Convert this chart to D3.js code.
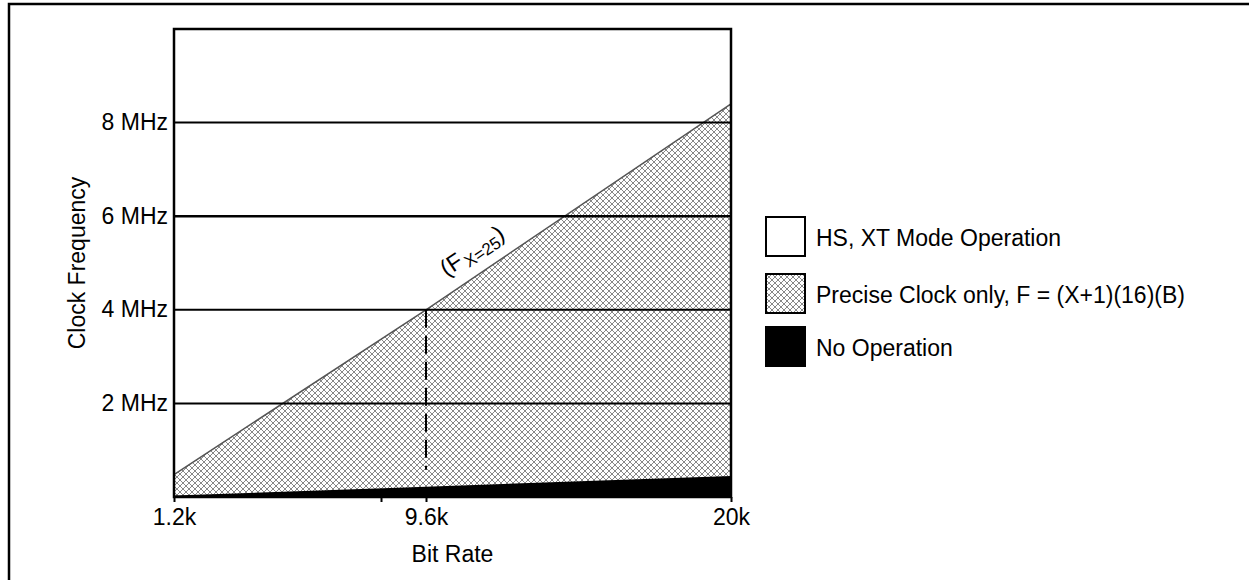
<!DOCTYPE html>
<html>
<head>
<meta charset="utf-8">
<script src="https://cdn.jsdelivr.net/npm/d3@7"></script>
<style>
  html, body { margin: 0; padding: 0; background: #fff; }
  svg { display: block; font-family: "Liberation Sans", Arial, sans-serif; }
</style>
</head>
<body>
<svg id="chart" width="1249" height="580"></svg>
<script>
// ---------- data ----------
const bitRateTicks = [1.2, 9.6, 20];
const bitRateTickLabels = ["1.2k", "9.6k", "20k"];
const bitRateMinorTicks = [8.1];
const freqTicks = [2, 4, 6, 8];
const freqTickLabels = ["2 MHz", "4 MHz", "6 MHz", "8 MHz"];
const preciseBitRate = [1.2, 9.6, 20];
const preciseFreq = [0.48, 4.0, 8.4];
const noOpBitRate = [1.2, 9.6, 20];
const noOpFreq = [0.03, 0.22, 0.45];
const markerBitRate = [9.6];
const markerFreqRange = [4.0, 0.58];
const annotationPos = [10.3, 4.7];
const legendLabels = ["HS, XT Mode Operation", "Precise Clock only, F = (X+1)(16)(B)", "No Operation"];
const xTitle = "Bit Rate";
const yTitle = "Clock Frequency";

// ---------- layout ----------
const L = 174, R = 731, T = 29, B = 497;
const FS = 23;
const svg = d3.select("#chart");

const x = d3.scaleLinear().domain(bitRateTicks).range([L, 426, R]);
const y = d3.scaleLinear().domain([0, 10]).range([B, T]);

// hatch pattern
const defs = svg.append("defs");
const pat = defs.append("pattern").attr("id", "hatch")
  .attr("patternUnits", "userSpaceOnUse").attr("width", 6).attr("height", 6);
pat.append("rect").attr("width", 6).attr("height", 6).attr("fill", "#fff");
pat.append("path").attr("d", "M0,0L6,6M6,0L0,6M-1,5L1,7M5,-1L7,1")
  .attr("stroke", "#6a6a6a").attr("stroke-width", 0.8).attr("fill", "none");

svg.append("rect").attr("width", 1249).attr("height", 580).attr("fill", "#fff");

// precise-clock area
const precise = preciseBitRate.map((b, i) => [b, preciseFreq[i]]);
svg.append("path")
  .datum(precise)
  .attr("d", d3.area().x(d => x(d[0])).y0(y(0)).y1(d => y(d[1])))
  .attr("fill", "url(#hatch)");
svg.append("path")
  .datum(precise)
  .attr("d", d3.line().x(d => x(d[0])).y(d => y(d[1])))
  .attr("fill", "none").attr("stroke", "#555").attr("stroke-width", 1.5);

// no-operation area
const noop = noOpBitRate.map((b, i) => [b, noOpFreq[i]]);
svg.append("path")
  .datum(noop)
  .attr("d", d3.area().x(d => x(d[0])).y0(y(0)).y1(d => y(d[1])))
  .attr("fill", "#000");

// gridlines
svg.append("g").selectAll("line").data(freqTicks).join("line")
  .attr("x1", L).attr("x2", R)
  .attr("y1", d => y(d)).attr("y2", d => y(d))
  .attr("stroke", "#000").attr("stroke-width", d => d === 6 ? 2.6 : 2);

// dashed marker
svg.append("g").selectAll("line").data(markerBitRate).join("line")
  .attr("x1", d => x(d)).attr("x2", d => x(d))
  .attr("y1", y(markerFreqRange[0])).attr("y2", y(markerFreqRange[1]))
  .attr("stroke", "#000").attr("stroke-width", 2).attr("stroke-dasharray", "18,8");

// annotation
const ang = Math.atan2(y(preciseFreq[2]) - y(preciseFreq[0]), x(preciseBitRate[2]) - x(preciseBitRate[0])) * 180 / Math.PI;
const ann = svg.append("text")
  .attr("transform", `translate(${x(annotationPos[0])},${y(annotationPos[1])}) rotate(${ang})`)
  .attr("font-size", FS).attr("fill", "#000");
ann.append("tspan").text("(F");
ann.append("tspan").attr("font-size", 17).attr("dy", 5).attr("dx", 2).text("X=25");
ann.append("tspan").attr("dy", -5).text(")");

// x axis
const xAxis = d3.axisBottom(x)
  .tickValues(bitRateTicks.concat(bitRateMinorTicks))
  .tickFormat(d => { const i = bitRateTicks.indexOf(d); return i >= 0 ? bitRateTickLabels[i] : ""; })
  .tickSize(5).tickPadding(7).tickSizeOuter(0);
const gx = svg.append("g").attr("transform", `translate(0,${B})`).call(xAxis);
gx.select(".domain").remove();
gx.selectAll(".tick line").attr("stroke", "#000").attr("stroke-width", 2);
gx.selectAll(".tick text").attr("font-size", FS).attr("font-family", "Liberation Sans, Arial, sans-serif").attr("fill", "#000");

// y axis
const yAxis = d3.axisLeft(y).tickValues(freqTicks)
  .tickFormat(d => freqTickLabels[freqTicks.indexOf(d)])
  .tickSize(0).tickPadding(6);
const gy = svg.append("g").attr("transform", `translate(${L},0)`).call(yAxis);
gy.select(".domain").remove();
gy.selectAll(".tick text").attr("font-size", FS).attr("font-family", "Liberation Sans, Arial, sans-serif").attr("fill", "#000").attr("dy", "0.3em");

// plot frame
svg.append("rect").attr("x", L).attr("y", T).attr("width", R - L).attr("height", B - T)
  .attr("fill", "none").attr("stroke", "#000").attr("stroke-width", 2.5);

// titles
svg.append("text").attr("x", (L + R) / 2).attr("y", 562)
  .attr("text-anchor", "middle").attr("font-size", FS).text(xTitle);
svg.append("text").attr("transform", `translate(85,${(T + B) / 2}) rotate(-90)`)
  .attr("text-anchor", "middle").attr("font-size", FS).text(yTitle);

// legend
const legendFills = ["#fff", "url(#hatch)", "#000"];
const legendTops = [217, 274, 327];
const lg = svg.append("g").selectAll("g").data(legendLabels).join("g")
  .attr("transform", (d, i) => `translate(766,${legendTops[i]})`);
lg.append("rect").attr("width", 39).attr("height", 39)
  .attr("fill", (d, i) => legendFills[i]).attr("stroke", "#000").attr("stroke-width", 2);
lg.append("text").attr("x", 50).attr("y", 29)
  .attr("font-size", FS).attr("fill", "#000").text(d => d);

// outer border
svg.append("rect").attr("x", 9).attr("y", 4).attr("width", 1400).attr("height", 800)
  .attr("fill", "none").attr("stroke", "#000").attr("stroke-width", 2.5);
</script>
</body>
</html>
